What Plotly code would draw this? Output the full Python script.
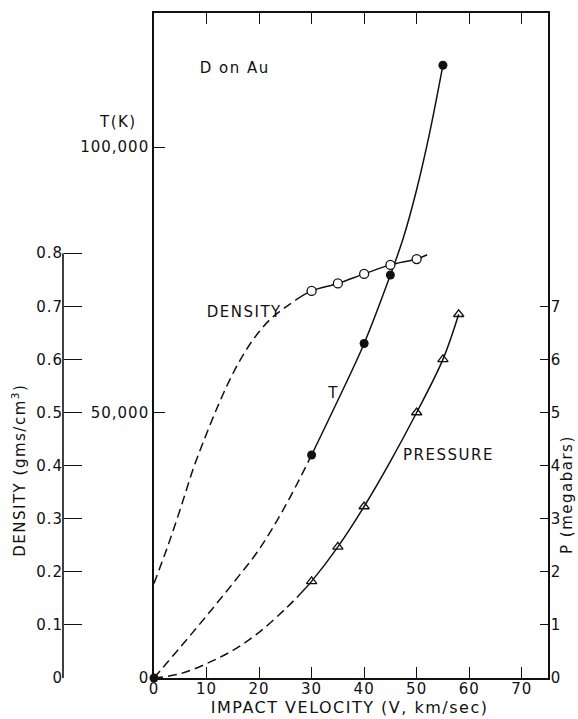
import plotly.graph_objects as go

# ---- data ----
# Temperature T(K) vs impact velocity
t_mark_v = [0, 30, 40, 45, 55]
t_mark_T = [0, 42000, 63000, 75900, 115400]
t_dash_v = [0, 5, 10, 15, 20, 25, 30]
t_dash_T = [0, 5800, 11700, 17800, 24200, 32400, 42000]
t_solid_v = [30, 35, 40, 45, 47.5, 50, 52.5, 55]
t_solid_T = [42000, 52300, 63000, 75900, 83000, 92000, 102800, 115400]

# Density (gms/cm3)
d_mark_v = [30, 35, 40, 45, 50]
d_mark_d = [0.729, 0.743, 0.761, 0.778, 0.789]
d_dash_v = [0, 2.5, 5, 7.5, 10, 12.5, 15, 17.5, 20, 22.5, 25, 27]
d_dash_d = [0.178, 0.245, 0.318, 0.395, 0.46, 0.52, 0.573, 0.617, 0.652, 0.679, 0.698, 0.712]
d_solid_v = [27, 30, 35, 40, 45, 50, 52]
d_solid_d = [0.712, 0.729, 0.743, 0.761, 0.778, 0.789, 0.797]

# Pressure (megabars)
p_mark_v = [30, 35, 40, 50, 55, 58]
p_mark_p = [1.82, 2.47, 3.23, 5.0, 6.0, 6.85]
p_dash_v = [0, 5, 10, 15, 20, 25, 28]
p_dash_p = [0, 0.08, 0.27, 0.52, 0.86, 1.3, 1.6]
p_solid_v = [28, 30, 35, 40, 45, 50, 55, 58]
p_solid_p = [1.6, 1.82, 2.47, 3.23, 4.08, 5.0, 6.0, 6.85]

x_ticks = [0, 10, 20, 30, 40, 50, 60, 70]
t_ticks = [0, 50000, 100000]
t_tick_text = ["0", "50,000", "100,000"]
d_ticks = [0, 0.1, 0.2, 0.3, 0.4, 0.5, 0.6, 0.7, 0.8]
d_tick_text = ["0", "0.1", "0.2", "0.3", "0.4", "0.5", "0.6", "0.7", "0.8"]
p_ticks = [0, 1, 2, 3, 4, 5, 6, 7]

# ---- layout geometry ----
W, H = 578, 719
ML, MR, MT, MB = 50, 30, 13, 41
PW = W - ML - MR
PH = H - MT - MB
FONT = "DejaVu Sans"
BLACK = "#111"


def xp(px):
    return (px - ML) / PW


def yp(py):
    return (H - MB - py) / PH


fig = go.Figure()
dash = "9px,5px"
lw = 1.5

# density
fig.add_trace(go.Scatter(x=d_dash_v, y=d_dash_d, yaxis="y3", mode="lines",
                         line=dict(color=BLACK, width=lw, dash=dash, shape="spline"),
                         showlegend=False, cliponaxis=False))
fig.add_trace(go.Scatter(x=d_solid_v, y=d_solid_d, yaxis="y3", mode="lines",
                         line=dict(color=BLACK, width=lw, shape="spline"),
                         showlegend=False, cliponaxis=False))
fig.add_trace(go.Scatter(x=d_mark_v, y=d_mark_d, yaxis="y3", mode="markers",
                         marker=dict(symbol="circle", size=9, color="white",
                                     line=dict(color=BLACK, width=1.3)),
                         showlegend=False, cliponaxis=False))
# temperature
fig.add_trace(go.Scatter(x=t_dash_v, y=t_dash_T, yaxis="y", mode="lines",
                         line=dict(color=BLACK, width=lw, dash=dash, shape="spline"),
                         showlegend=False, cliponaxis=False))
fig.add_trace(go.Scatter(x=t_solid_v, y=t_solid_T, yaxis="y", mode="lines",
                         line=dict(color=BLACK, width=lw, shape="spline"),
                         showlegend=False, cliponaxis=False))
fig.add_trace(go.Scatter(x=t_mark_v, y=t_mark_T, yaxis="y", mode="markers",
                         marker=dict(symbol="circle", size=9, color=BLACK),
                         showlegend=False, cliponaxis=False))
# pressure
fig.add_trace(go.Scatter(x=p_dash_v, y=p_dash_p, yaxis="y2", mode="lines",
                         line=dict(color=BLACK, width=lw, dash=dash, shape="spline"),
                         showlegend=False, cliponaxis=False))
fig.add_trace(go.Scatter(x=p_solid_v, y=p_solid_p, yaxis="y2", mode="lines",
                         line=dict(color=BLACK, width=lw, shape="spline"),
                         showlegend=False, cliponaxis=False))
fig.add_trace(go.Scatter(x=p_mark_v, y=p_mark_p, yaxis="y2", mode="markers",
                         marker=dict(symbol="triangle-up-open", size=9, color=BLACK,
                                     line=dict(color=BLACK, width=1.3)),
                         showlegend=False, cliponaxis=False))

tickfont = dict(family=FONT, size=15, color=BLACK)
x_dom0 = xp(154)

fig.update_layout(
    width=W, height=H,
    margin=dict(l=ML, r=MR, t=MT, b=MB, pad=0),
    paper_bgcolor="white", plot_bgcolor="white",
    showlegend=False,
    xaxis=dict(domain=[x_dom0, 1], range=[0, 75], tickvals=x_ticks,
               ticks="inside", ticklen=11, tickwidth=1.4, tickcolor=BLACK,
               showline=True, linecolor=BLACK, linewidth=1.6, mirror="ticks",
               showgrid=False, zeroline=False, tickfont=tickfont,
               ticklabelstandoff=-4),
    yaxis=dict(range=[0, PH / 0.00531], tickvals=t_ticks, ticktext=t_tick_text,
               ticks="inside", ticklen=11, tickwidth=1.4, tickcolor=BLACK,
               showline=True, linecolor=BLACK, linewidth=1.6,
               showgrid=False, zeroline=False, tickfont=tickfont,
               ticklabelstandoff=0),
    yaxis2=dict(overlaying="y", side="right", range=[0, PH / 53.1], tickvals=p_ticks,
                ticks="inside", ticklen=8, tickwidth=1.4, tickcolor=BLACK,
                showline=True, linecolor=BLACK, linewidth=1.6,
                showgrid=False, zeroline=False, tickfont=tickfont,
                ticklabelstandoff=-2),
    yaxis3=dict(overlaying="y", anchor="free", side="left", position=xp(63),
                range=[0, PH / 531.0], tickvals=d_ticks, ticktext=d_tick_text,
                ticks="inside", ticklen=18, tickwidth=1.4, tickcolor=BLACK,
                showline=False, showgrid=False, zeroline=False, tickfont=tickfont,
                ticklabelstandoff=0),
)

fig.add_shape(type="line", xref="paper", yref="y3", x0=xp(63), x1=xp(63), y0=0, y1=0.8,
              line=dict(color=BLACK, width=1.6))

annots = [
    ("D on Au", 203, 68, 0, "left", 15),
    ("T(K)", 118, 122, 0, "center", 15),
    ("DENSITY", 279, 312, 0, "right", 15),
    ("T", 333, 393, 0, "center", 15),
    ("PRESSURE", 490, 455, 0, "right", 15),
    ("IMPACT VELOCITY (V, km/sec)", 349, 707, 0, "center", 16),
    ("DENSITY (gms/cm<sup>3</sup>)", 19, 470, -90, "center", 15),
    ("P (megabars)", 567, 495, -90, "center", 15),
]
for text, x, y, ang, xa, sz in annots:
    fig.add_annotation(text=text, xref="paper", yref="paper", x=xp(x), y=yp(y),
                       showarrow=False, font=dict(family=FONT, size=sz, color=BLACK),
                       textangle=ang, xanchor=xa, yanchor="middle")

post = (
    "document.body.style.margin='0px';"
    "document.body.style.overflow='hidden';"
    "document.querySelectorAll('.annotation-text').forEach(t=>t.style.letterSpacing='1.5px');"
    "document.querySelectorAll('g[class$=\"tick\"] text').forEach(t=>t.style.letterSpacing='1px');"
)

fig.write_html("out.html", config={"displayModeBar": False}, post_script=post)
